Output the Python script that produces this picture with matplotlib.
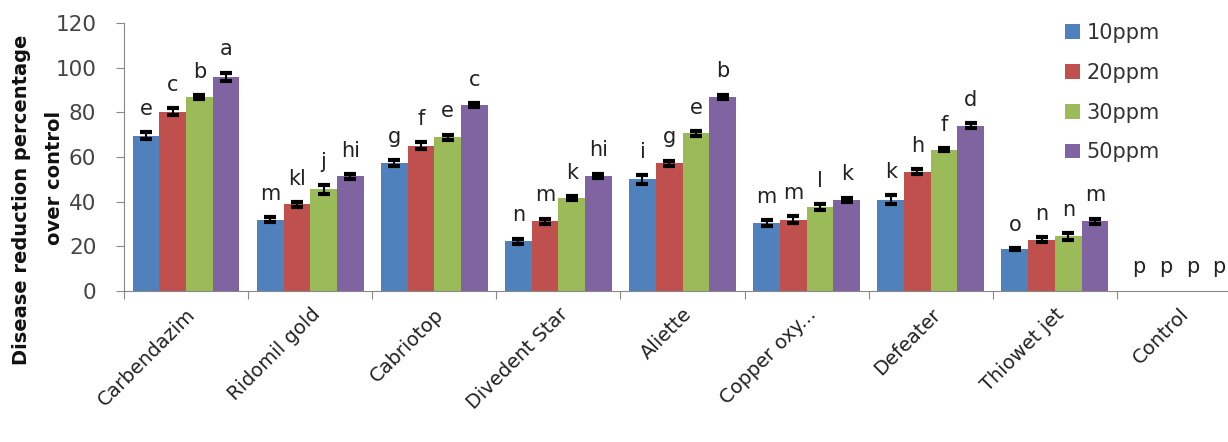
import matplotlib
matplotlib.use("Agg")
import matplotlib.pyplot as plt
import numpy as np

categories = ["Carbendazim", "Ridomil gold", "Cabriotop", "Divedent Star", "Aliette",
              "Copper oxy...", "Defeater", "Thiowet jet", "Control"]
series_names = ["10ppm", "20ppm", "30ppm", "50ppm"]
v10 = [69.5, 31.9, 57.1, 22.2, 49.9, 30.4, 40.8, 18.6, 0]
v20 = [80.2, 38.7, 65.0, 31.1, 57.1, 31.9, 53.4, 22.9, 0]
v30 = [86.9, 45.4, 68.8, 41.5, 70.5, 37.5, 63.3, 24.4, 0]
v50 = [95.8, 51.3, 83.2, 51.5, 86.8, 40.8, 74.0, 31.1, 0]
e10 = [1.5, 1.2, 1.3, 1.2, 2.0, 1.2, 2.0, 0.5, 0]
e20 = [1.5, 1.0, 1.5, 1.2, 1.2, 1.5, 1.0, 1.2, 0]
e30 = [0.8, 2.0, 1.2, 1.0, 1.0, 1.2, 0.7, 1.5, 0]
e50 = [2.0, 1.0, 1.0, 1.0, 1.0, 1.0, 1.2, 1.2, 0]
letters10 = ["e", "m", "g", "n", "i", "m", "k", "o", "p"]
letters20 = ["c", "kl", "f", "m", "g", "m", "h", "n", "p"]
letters30 = ["b", "j", "e", "k", "e", "l", "f", "n", "p"]
letters50 = ["a", "hi", "c", "hi", "b", "k", "d", "m", "p"]
yticks = [0, 20, 40, 60, 80, 100, 120]
ylabel_lines = ["Disease reduction percentage", "over control"]

colors = ["#4F81BD", "#C0504D", "#9BBB59", "#8064A2"]
values = [v10, v20, v30, v50]
errors = [e10, e20, e30, e50]
letters = [letters10, letters20, letters30, letters50]

fig = plt.figure(figsize=(12.28, 4.42), dpi=100)
ax = fig.add_axes([0.101, 0.342, 0.9096, 0.606])

n = len(categories)
x = np.arange(n)
bw = 0.215
for i in range(4):
    xs = x + (i - 1.5) * bw
    ax.bar(xs, values[i], width=bw, color=colors[i], label=series_names[i], zorder=2)
    vals = np.array(values[i]); errs = np.array(errors[i])
    m = errs > 0
    ax.errorbar(xs[m], vals[m], yerr=errs[m], fmt="none", ecolor="black",
                elinewidth=1.5, capsize=4, capthick=3, zorder=3)
    for xi, v, e, t in zip(xs, values[i], errors[i], letters[i]):
        ax.text(xi, v + e + 6, t, ha="center", va="bottom", fontsize=15, color="#222222")

ax.set_xlim(-0.5, n - 0.5)
ax.set_ylim(0, 120)
ax.set_yticks(yticks)
ax.set_yticklabels([str(t) for t in yticks], fontsize=15.5, color="#444444")
ax.set_xticks(np.arange(n + 1) - 0.5, minor=False)
ax.set_xticklabels([])
ax.set_xticks(x, minor=True)
ax.set_xticklabels(categories, minor=True, rotation=45, ha="right",
                   rotation_mode="anchor", fontsize=14, color="#222222")
ax.tick_params(axis="x", which="minor", length=0, pad=10)
ax.tick_params(axis="x", which="major", length=6, color="#888888", direction="out")
ax.tick_params(axis="y", length=6, color="#888888", direction="out", pad=14)
for s in ["top", "right"]:
    ax.spines[s].set_visible(False)
for s in ["left", "bottom"]:
    ax.spines[s].set_color("#888888")

fig.text(22 / 1228, 1 - 200 / 442, ylabel_lines[0], rotation=90, ha="center", va="center",
         fontsize=14, fontweight="bold", color="#111111")
fig.text(55 / 1228, 1 - 178 / 442, ylabel_lines[1], rotation=90, ha="center", va="center",
         fontsize=14, fontweight="bold", color="#111111")

leg = ax.legend(loc="upper left", bbox_to_anchor=(0.826, 1.07), frameon=False,
                fontsize=15, handlelength=0.7, handleheight=0.7, labelspacing=0.95,
                handletextpad=0.3)
for t in leg.get_texts():
    t.set_color("#333333")

fig.savefig("out.png", dpi=100)
